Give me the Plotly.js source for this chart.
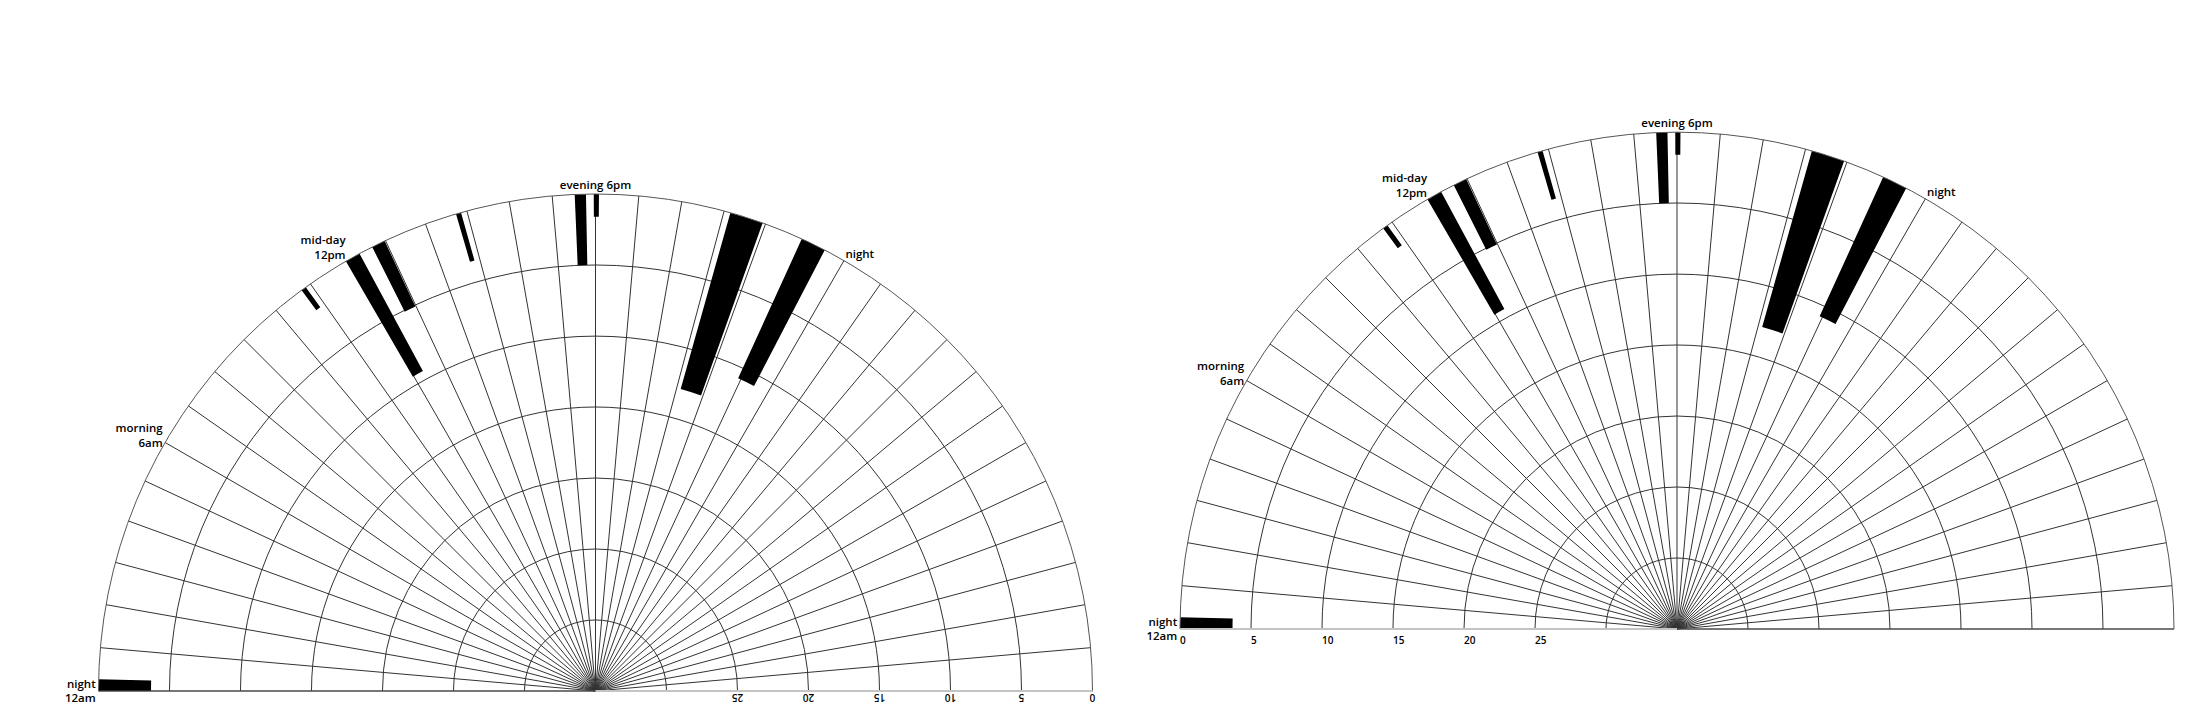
<!DOCTYPE html>
<html>
<head>
<meta charset="utf-8">
<script src="https://cdn.plot.ly/plotly-3.0.1.min.js"></script>
<style>
  html, body { margin: 0; padding: 0; background: #fff; }
  #chart { width: 2200px; height: 713px; }
</style>
</head>
<body>
<div id="chart"></div>
<script>
// one spoke per hour, 36 hours across the half circle
var DEG_PER_HOUR = 5;

// bars: where they sit (hour of day), how wide (hours) and how far they reach in
var barHours  = [0.135, 10.81, 12.15, 12.82, 14.80, 17.65, 18.02, 21.54, 23.20];
var barWidths = [0.27,  0.12,  0.36,  0.32,  0.12,  0.26,  0.12,  0.78,  0.59];
var barValues = [3.7,   1.75,  9.4,   5.1,   3.5,   5.0,   1.6,   12.9,  10.8];

// time labels on the rim
var timeHours  = [0, 6, 12, 18, 24];
var timeLabels = ['night<br>12am', 'morning<br>6am', 'mid-day<br>12pm', 'evening 6pm', 'night'];

// radial rings, 0 on the rim
var ringVals   = [0, 5, 10, 15, 20, 25, 30];
var ringLabels = ['0', '5', '10', '15', '20', '25', ''];
var radialMax  = 35;

var spokeVals = [];
var spokeText = [];
for (var h = 0; h <= 36; h++) {
    spokeVals.push(h * DEG_PER_HOUR);
    var k = timeHours.indexOf(h);
    spokeText.push(k >= 0 ? timeLabels[k] : '');
}

var theta = barHours.map(function (h) { return h * DEG_PER_HOUR; });
var width = barWidths.map(function (w) { return w * DEG_PER_HOUR; });

function barTrace(subplot) {
    return {
        type: 'barpolar',
        subplot: subplot,
        r: barValues,
        theta: theta,
        width: width,
        marker: { color: '#000', line: { width: 0 } },
        hoverinfo: 'skip',
        showlegend: false
    };
}

function angular() {
    return {
        rotation: 180,
        direction: 'clockwise',
        tickmode: 'array',
        tickvals: spokeVals,
        ticktext: spokeText,
        ticks: '',
        showline: true,
        linecolor: '#555',
        linewidth: 1,
        gridcolor: '#333',
        gridwidth: 1,
        tickfont: { family: 'Open Sans, sans-serif', size: 11.5, color: '#000', weight: 600 }
    };
}

function radial(angle, tickangle, side) {
    return {
        range: [radialMax, 0],
        angle: angle,
        tickangle: tickangle,
        side: side,
        tickmode: 'array',
        tickvals: ringVals,
        ticktext: ringLabels,
        ticks: '',
        showline: true,
        linecolor: '#c4c4c4',
        linewidth: 2,
        gridcolor: '#333',
        gridwidth: 1,
        tickfont: { family: 'Open Sans, sans-serif', size: 10, color: '#000', weight: 600 }
    };
}

var data = [barTrace('polar'), barTrace('polar2')];

var layout = {
    width: 2200,
    height: 713,
    margin: { l: 0, r: 0, t: 0, b: 0 },
    paper_bgcolor: '#fff',
    showlegend: false,
    polar: {
        domain: { x: [0.04477, 0.49659], y: [0.03086, 0.72791] },
        sector: [0, 180],
        bgcolor: '#fff',
        bargap: 0,
        angularaxis: angular(),
        radialaxis: radial(0, 180, 'clockwise')
    },
    polar2: {
        domain: { x: [0.53636, 0.98818], y: [0.11781, 0.81487] },
        sector: [0, 180],
        bgcolor: '#fff',
        bargap: 0,
        angularaxis: angular(),
        radialaxis: radial(180, -180, 'counterclockwise')
    }
};

Plotly.newPlot('chart', data, layout, { staticPlot: true, displayModeBar: false });
</script>
</body>
</html>
